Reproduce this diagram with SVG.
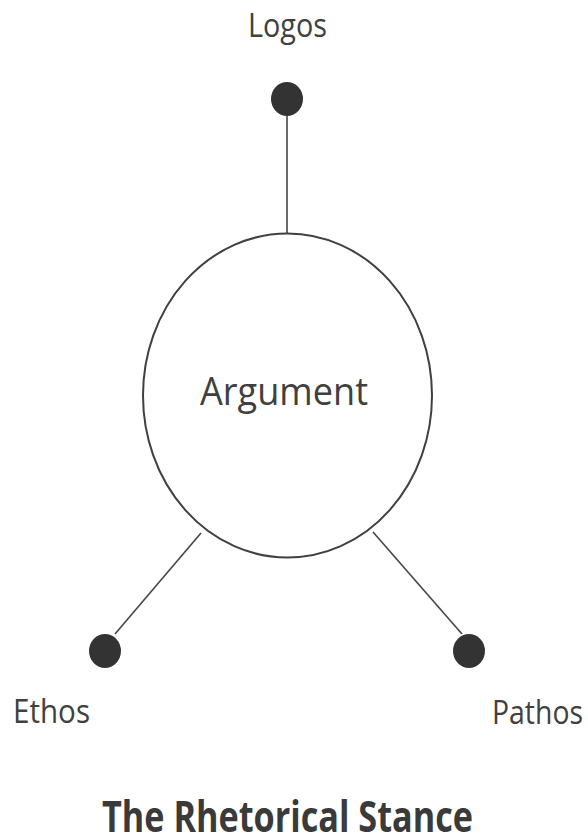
<svg xmlns="http://www.w3.org/2000/svg" width="588" height="837" viewBox="0 0 588 837">
<style>
.lbl{font-family:"Open Sans","Noto Sans","Liberation Sans",sans-serif;fill:#404040;}
.title{font-family:"Open Sans","Noto Sans","Liberation Sans",sans-serif;font-weight:bold;fill:#3a3a3a;}
.dot{fill:#333333;}
.edge{stroke:#454545;stroke-width:1.6;fill:none;}
</style>
<rect width="588" height="837" fill="#ffffff"/>
<g id="connectors">
<line class="edge" x1="287" y1="112" x2="287" y2="234"/>
<line class="edge" x1="115" y1="634" x2="201" y2="533"/>
<line class="edge" x1="373" y1="532" x2="462" y2="634"/>
</g>
<g id="argument">
<ellipse cx="287.5" cy="395.5" rx="144.5" ry="162" fill="#ffffff" stroke="#404040" stroke-width="2"/>
<text class="lbl" font-size="34" textLength="168" lengthAdjust="spacingAndGlyphs" transform="translate(200,405) scale(1,1.15)">Argument</text>
</g>
<g id="logos">
<ellipse class="dot" cx="287" cy="99" rx="16" ry="17"/>
<text class="lbl" font-size="29" textLength="79" lengthAdjust="spacingAndGlyphs" transform="translate(248,37) scale(1,1.16)">Logos</text>
</g>
<g id="ethos">
<ellipse class="dot" cx="105" cy="651" rx="16" ry="17"/>
<text class="lbl" font-size="29" textLength="77" lengthAdjust="spacingAndGlyphs" transform="translate(13,723) scale(1,1.12)">Ethos</text>
</g>
<g id="pathos">
<ellipse class="dot" cx="469" cy="651" rx="16" ry="17"/>
<text class="lbl" font-size="29" textLength="91" lengthAdjust="spacingAndGlyphs" transform="translate(492,724) scale(1,1.15)">Pathos</text>
</g>
<g id="title">
<text class="title" font-size="36" textLength="371" lengthAdjust="spacingAndGlyphs" transform="translate(102,832) scale(1,1.17)">The Rhetorical Stance</text>
</g>
</svg>
